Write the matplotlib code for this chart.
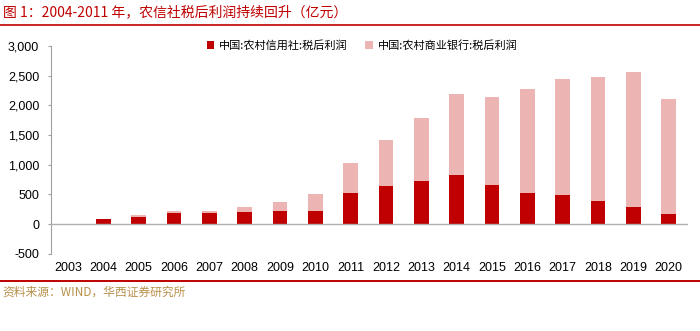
import matplotlib
matplotlib.use("Agg")
import matplotlib.pyplot as plt
from matplotlib.lines import Line2D
import numpy as np

plt.rcParams['font.family'] = ['Liberation Sans', 'Noto Sans CJK SC', 'DejaVu Sans']

years = ['2003', '2004', '2005', '2006', '2007', '2008', '2009', '2010', '2011',
         '2012', '2013', '2014', '2015', '2016', '2017', '2018', '2019', '2020']
# 农村信用社税后利润（亿元）
rcc_profit = [-10, 90, 117, 180, 185, 213, 218, 230, 530,
              648, 720, 821, 659, 520, 486, 397, 290, 168]
# 农村商业银行税后利润（亿元）
rcb_profit = [0, 0, 33, 38, 45, 72, 151, 275, 504,
              777, 1068, 1374, 1481, 1764, 1961, 2083, 2274, 1944]

yticks = [-500, 0, 500, 1000, 1500, 2000, 2500, 3000]

title = '图 1：2004-2011 年，农信社税后利润持续回升（亿元）'
source = '资料来源：WIND，华西证券研究所'
label_rcc = '中国:农村信用社:税后利润'
label_rcb = '中国:农村商业银行:税后利润'

red = '#C00000'
pink = '#EDB4B4'

fig = plt.figure(figsize=(7.0, 3.31), dpi=100)
ax = fig.add_axes([0.073, 0.233, 0.910, 0.628])

x = np.arange(len(years))
w = 0.41
ax.bar(x, rcc_profit, width=w, color=red, label=label_rcc, zorder=2)
bottoms = [max(v, 0) for v in rcc_profit]
ax.bar(x, rcb_profit, width=w, bottom=bottoms, color=pink, label=label_rcb, zorder=2)

ax.set_xlim(-0.48, 17.55)
ax.set_ylim(-500, 3000)
ax.set_yticks(yticks)
ax.set_yticklabels([f'{v:,}' for v in yticks], fontsize=9)
ax.set_xticks(x)
ax.set_xticklabels(years, fontsize=9)
ax.tick_params(axis='x', length=0, pad=6)
ax.tick_params(axis='y', length=2.5, color='#A0A0A0', pad=6, direction='out')

for s in ['top', 'right', 'bottom']:
    ax.spines[s].set_visible(False)
ax.spines['left'].set_color('#A0A0A0')
ax.spines['left'].set_linewidth(0.8)
ax.axhline(0, color='#B0B0B0', lw=1.0, zorder=3)

ax.legend(loc='upper center', bbox_to_anchor=(0.488, 1.075), ncol=2, frameon=False,
          handlelength=0.7, handleheight=0.7, handletextpad=0.4,
          columnspacing=1.6, prop={'family': ['Noto Sans CJK SC'], 'size': 8})

fig.text(0.004, 0.962, title, color=red, fontsize=10, fontweight='medium',
         family=['Noto Sans CJK SC', 'DejaVu Sans'], va='center', ha='left')
fig.add_artist(Line2D([0, 1], [0.924, 0.924], transform=fig.transFigure, color=red, lw=1.2))
fig.add_artist(Line2D([0, 1], [0.151, 0.151], transform=fig.transFigure, color=red, lw=1.4))
fig.text(0.004, 0.118, source, color='#B8904A', fontsize=8.5,
         family=['Noto Sans CJK SC', 'DejaVu Sans'], va='center', ha='left')

fig.savefig('out.png', dpi=100)
